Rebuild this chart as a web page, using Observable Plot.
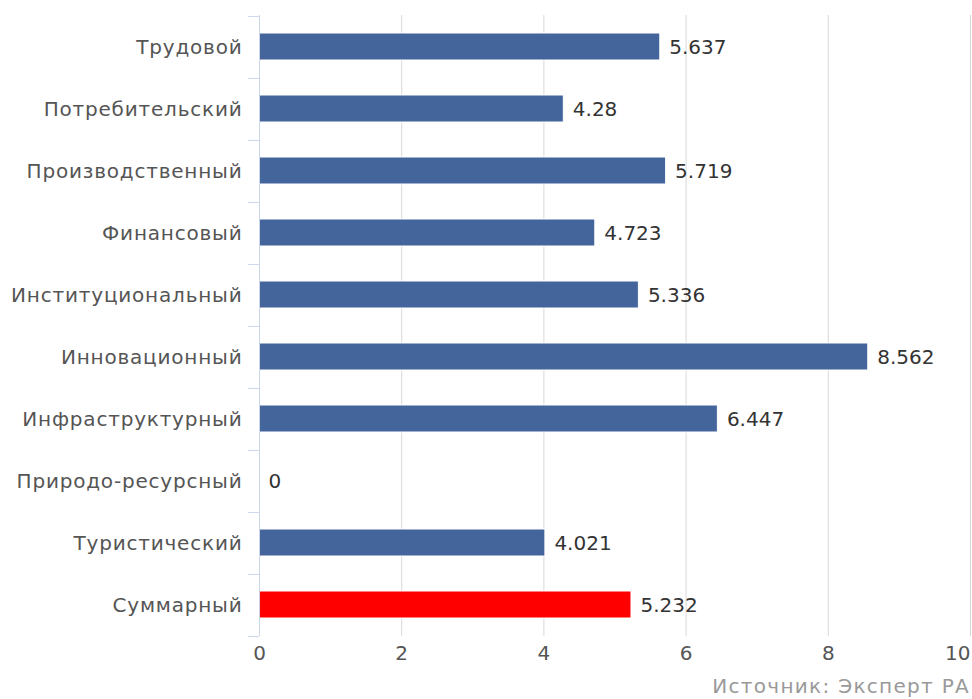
<!DOCTYPE html>
<html>
<head>
<meta charset="utf-8">
<script src="https://cdn.jsdelivr.net/npm/d3@7"></script>
<script src="https://cdn.jsdelivr.net/npm/@observablehq/plot@0.6"></script>
<style>
  body { margin: 0; background: #fff; }
  #chart { position: relative; width: 972px; height: 699px; font-family: "DejaVu Sans", sans-serif; }
  #caption { position: absolute; right: 2px; top: 674px; font-size: 20px; line-height: 24px; letter-spacing: 1.3px; color: #999; font-family: "DejaVu Sans", sans-serif; }
  .ylab text { letter-spacing: 0.8px; }
</style>
</head>
<body>
<div id="chart"></div>
<script>
const categories = ["Трудовой", "Потребительский", "Производственный", "Финансовый", "Институциональный", "Инновационный", "Инфраструктурный", "Природо-ресурсный", "Туристический", "Суммарный"];
const values = [5.637, 4.28, 5.719, 4.723, 5.336, 8.562, 6.447, 0, 4.021, 5.232];
const highlight = ["Суммарный"];
const xTicks = [0, 2, 4, 6, 8, 10];
const captionText = "Источник: Эксперт РА";

const data = categories.map((c, i) => ({category: c, value: values[i], total: highlight.includes(c)}));
const bandPx = (636 - 15) / categories.length;

const chart = Plot.plot({
  width: 972,
  height: 668,
  marginLeft: 259,
  marginRight: 2,
  marginTop: 15,
  marginBottom: 32,
  style: {fontFamily: "DejaVu Sans, sans-serif", fontSize: "20px", color: "#555"},
  x: {domain: [0, 10], ticks: xTicks, label: null},
  y: {domain: categories, padding: 0, label: null},
  marks: [
    Plot.ruleX(xTicks.filter(d => d > 0), {stroke: "#d8d8d8", strokeWidth: 1, strokeOpacity: 1}),
    Plot.barX(data, {
      y: "category", x: "value",
      fill: d => d.total ? "#ff0000" : "#44649c",
      stroke: "#fff", strokeWidth: 1,
      insetTop: 17, insetBottom: 18
    }),
    Plot.ruleY(categories, {y: d => d, x1: -0.155, x2: 0, dy: -bandPx / 2, stroke: "#ccd6eb"}),
    Plot.ruleY(categories.slice(-1), {y: d => d, x1: -0.155, x2: 0, dy: bandPx / 2, stroke: "#ccd6eb"}),
    Plot.ruleX([0], {stroke: "#ccd6eb", strokeWidth: 1}),
    Plot.text(data, {
      y: "category", x: "value", text: d => String(d.value),
      dx: 9, textAnchor: "start", fill: "#333", fontSize: 20
    }),
    Plot.axisX(xTicks.slice(0, -1), {tickSize: 0, tickPadding: 9, fontSize: 20, fill: "#555", label: null}),
    Plot.axisX(xTicks.slice(-1), {tickSize: 0, tickPadding: 9, fontSize: 20, fill: "#555", label: null, textAnchor: "end", dx: 0}),
    Plot.axisY({tickSize: 0, tickPadding: 17, fontSize: 20, fill: "#555", label: null, className: "ylab"})
  ]
});
document.getElementById("chart").appendChild(chart);
const cap = document.createElement("div");
cap.id = "caption";
cap.textContent = captionText;
document.getElementById("chart").appendChild(cap);
</script>
</body>
</html>
